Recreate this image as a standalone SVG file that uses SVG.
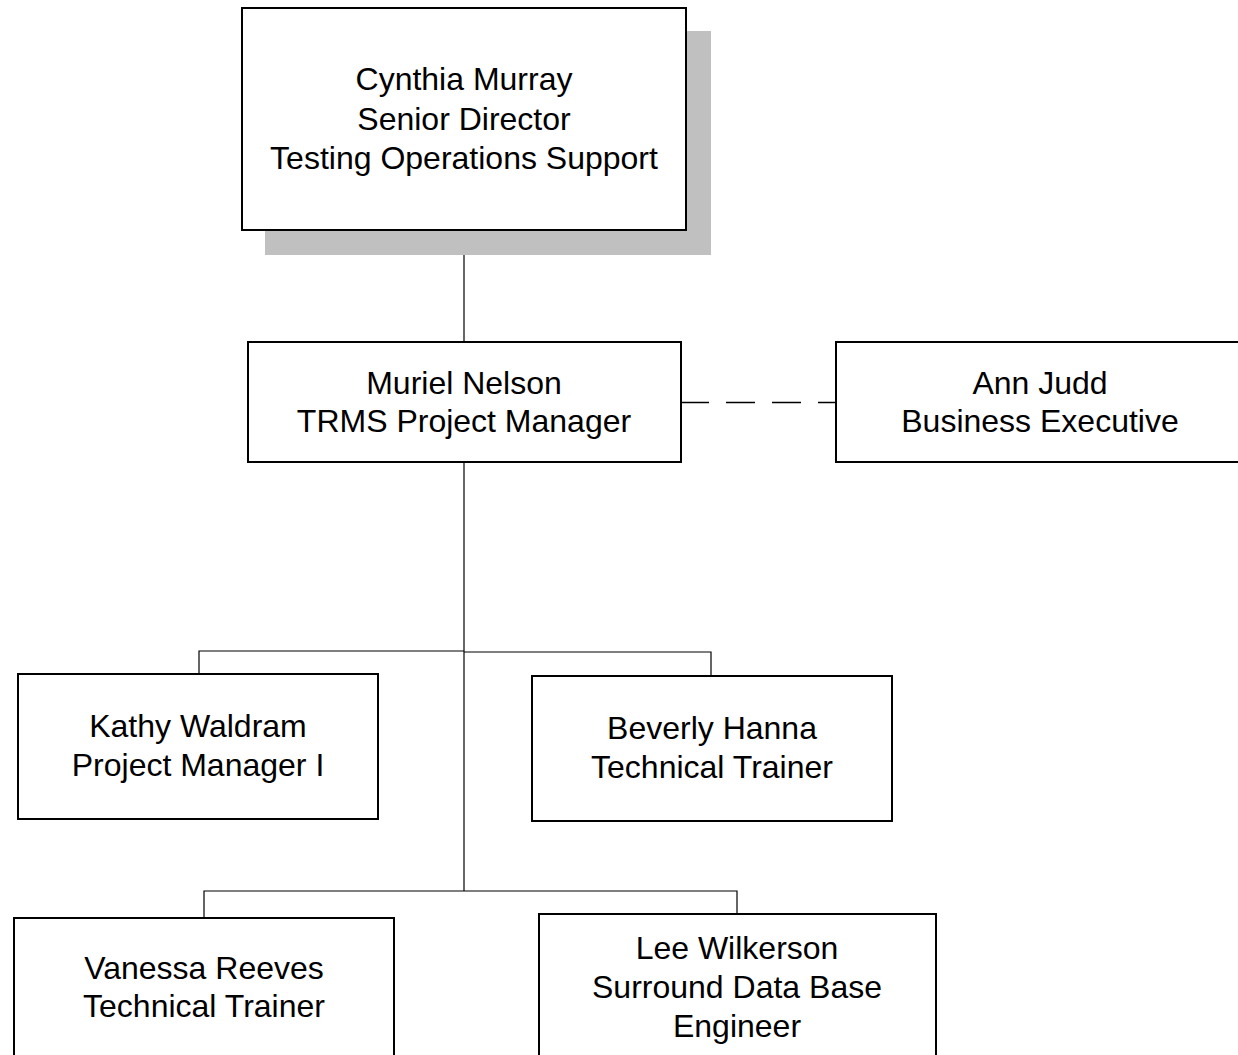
<svg xmlns="http://www.w3.org/2000/svg" width="1238" height="1055" viewBox="0 0 1238 1055">
<style>
.box{fill:#fff;stroke:#000;stroke-width:2}
.shadow{fill:#c0c0c0;stroke:none}
.lbl{font-family:"Liberation Sans",Arial,sans-serif;font-size:32px;fill:#000;text-anchor:middle}
.conn{fill:none;stroke:#000;stroke-width:1.2}
.dash{stroke-dasharray:29 17;stroke-width:1.5}
</style>
<rect width="1238" height="1055" fill="#fff"/>
<g id="connectors">
<line class="conn" x1="464" y1="230" x2="464" y2="342"/>
<line class="conn" x1="464" y1="462" x2="464" y2="891"/>
<polyline class="conn" points="199,674 199,651 464,651"/>
<polyline class="conn" points="464,652 711,652 711,676"/>
<polyline class="conn" points="204,918 204,891 737,891 737,914"/>
<line class="conn dash" x1="680" y1="402.5" x2="836" y2="402.5"/>
</g>
<g id="cynthia">
<rect class="shadow" x="265" y="31" width="446" height="224"/>
<rect class="box" x="242" y="8" width="444" height="222"/>
<text class="lbl"><tspan x="464" y="89.5">Cynthia Murray</tspan><tspan x="464" y="129.5">Senior Director</tspan><tspan x="464" y="168.5">Testing Operations Support</tspan></text>
</g>
<g id="muriel">
<rect class="box" x="248" y="342" width="433" height="120"/>
<text class="lbl"><tspan x="464" y="393.5">Muriel Nelson</tspan><tspan x="464" y="431.5">TRMS Project Manager</tspan></text>
</g>
<g id="ann">
<rect class="box" x="836" y="342" width="410" height="120"/>
<text class="lbl"><tspan x="1040" y="393.5">Ann Judd</tspan><tspan x="1040" y="431.5">Business Executive</tspan></text>
</g>
<g id="kathy">
<rect class="box" x="18" y="674" width="360" height="145"/>
<text class="lbl"><tspan x="198" y="736.5">Kathy Waldram</tspan><tspan x="198" y="775.5">Project Manager I</tspan></text>
</g>
<g id="beverly">
<rect class="box" x="532" y="676" width="360" height="145"/>
<text class="lbl"><tspan x="712" y="738.5">Beverly Hanna</tspan><tspan x="712" y="777.5">Technical Trainer</tspan></text>
</g>
<g id="vanessa">
<rect class="box" x="14" y="918" width="380" height="160"/>
<text class="lbl"><tspan x="204" y="978.5">Vanessa Reeves</tspan><tspan x="204" y="1016.5">Technical Trainer</tspan></text>
</g>
<g id="lee">
<rect class="box" x="539" y="914" width="397" height="160"/>
<text class="lbl"><tspan x="737" y="958.5">Lee Wilkerson</tspan><tspan x="737" y="997.5">Surround Data Base</tspan><tspan x="737" y="1036.5">Engineer</tspan></text>
</g>
</svg>
